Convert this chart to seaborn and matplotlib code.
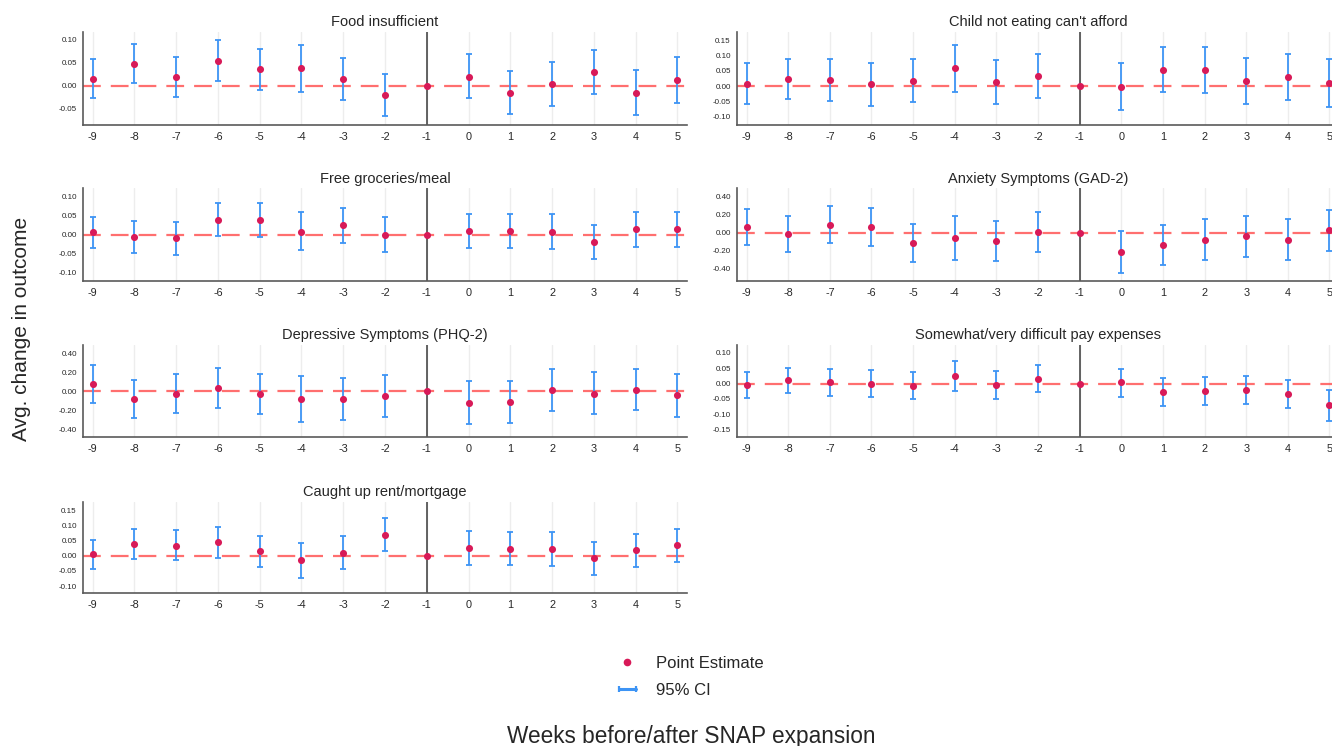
"""
Event-study style panels: weekly point estimates and 95% CIs around the
SNAP expansion (week -1 is the reference week).
"""

import numpy as np
import pandas as pd
import seaborn as sns
import matplotlib.pyplot as plt
from matplotlib.lines import Line2D
from matplotlib.legend_handler import HandlerLine2D

WEEKS = list(range(-9, 6))
NA = np.nan

FOOD_EST = [0.015, 0.048, 0.019, 0.055, 0.036, 0.038, 0.015, -0.021, 0.0, 0.020, -0.015, 0.003, 0.030, -0.015, 0.012]
FOOD_LO = [-0.028, 0.005, -0.025, 0.011, -0.010, -0.013, -0.032, -0.067, NA, -0.028, -0.063, -0.045, -0.018, -0.064, -0.038]
FOOD_HI = [0.058, 0.092, 0.063, 0.100, 0.080, 0.089, 0.061, 0.026, NA, 0.069, 0.033, 0.052, 0.077, 0.034, 0.063]

CHILD_EST = [0.008, 0.023, 0.021, 0.007, 0.018, 0.058, 0.013, 0.034, 0.0, -0.002, 0.054, 0.052, 0.017, 0.029, 0.009]
CHILD_LO = [-0.059, -0.044, -0.048, -0.064, -0.053, -0.021, -0.060, -0.038, NA, -0.078, -0.021, -0.024, -0.058, -0.047, -0.069]
CHILD_HI = [0.075, 0.090, 0.089, 0.076, 0.088, 0.136, 0.086, 0.106, NA, 0.075, 0.128, 0.128, 0.091, 0.104, 0.088]

FREE_EST = [0.006, -0.005, -0.010, 0.039, 0.039, 0.008, 0.024, 0.0, 0.0, 0.010, 0.010, 0.008, -0.020, 0.014, 0.015]
FREE_LO = [-0.036, -0.047, -0.053, -0.004, -0.006, -0.041, -0.023, -0.045, NA, -0.036, -0.034, -0.037, -0.064, -0.031, -0.031]
FREE_HI = [0.047, 0.036, 0.032, 0.083, 0.083, 0.058, 0.069, 0.046, NA, 0.055, 0.053, 0.053, 0.024, 0.059, 0.060]

ANX_EST = [0.063, -0.011, 0.088, 0.066, -0.114, -0.063, -0.092, 0.004, 0.0, -0.218, -0.136, -0.081, -0.041, -0.077, 0.026]
ANX_LO = [-0.140, -0.214, -0.118, -0.144, -0.324, -0.299, -0.313, -0.214, NA, -0.446, -0.354, -0.306, -0.269, -0.299, -0.203]
ANX_HI = [0.258, 0.188, 0.299, 0.273, 0.100, 0.181, 0.133, 0.225, NA, 0.015, 0.085, 0.148, 0.181, 0.148, 0.251]

DEP_EST = [0.077, -0.084, -0.025, 0.035, -0.031, -0.080, -0.084, -0.045, 0.0, -0.119, -0.115, 0.018, -0.025, 0.018, -0.042]
DEP_LO = [-0.122, -0.283, -0.224, -0.171, -0.241, -0.321, -0.300, -0.265, NA, -0.346, -0.332, -0.203, -0.241, -0.199, -0.265]
DEP_HI = [0.276, 0.115, 0.182, 0.241, 0.182, 0.157, 0.136, 0.175, NA, 0.108, 0.105, 0.238, 0.206, 0.238, 0.185]

PAY_EST = [-0.005, 0.011, 0.004, 0.0, -0.007, 0.025, -0.004, 0.015, 0.0, 0.004, -0.026, -0.023, -0.021, -0.034, -0.071]
PAY_LO = [-0.048, -0.032, -0.039, -0.044, -0.051, -0.024, -0.050, -0.028, NA, -0.044, -0.072, -0.071, -0.066, -0.080, -0.121]
PAY_HI = [0.037, 0.052, 0.047, 0.044, 0.037, 0.074, 0.041, 0.060, NA, 0.049, 0.019, 0.023, 0.025, 0.013, -0.021]

RENT_EST = [0.004, 0.038, 0.033, 0.044, 0.016, -0.016, 0.010, 0.069, 0.0, 0.026, 0.022, 0.022, -0.009, 0.020, 0.034]
RENT_LO = [-0.045, -0.010, -0.016, -0.007, -0.036, -0.075, -0.044, 0.015, NA, -0.031, -0.031, -0.033, -0.064, -0.036, -0.021]
RENT_HI = [0.053, 0.087, 0.083, 0.095, 0.066, 0.043, 0.063, 0.123, NA, 0.082, 0.077, 0.077, 0.046, 0.072, 0.089]

TITLES = [
    "Food insufficient",
    "Child not eating can't afford",
    "Free groceries/meal",
    "Anxiety Symptoms (GAD-2)",
    "Depressive Symptoms (PHQ-2)",
    "Somewhat/very difficult pay expenses",
    "Caught up rent/mortgage",
]
SERIES = [
    (FOOD_EST, FOOD_LO, FOOD_HI),
    (CHILD_EST, CHILD_LO, CHILD_HI),
    (FREE_EST, FREE_LO, FREE_HI),
    (ANX_EST, ANX_LO, ANX_HI),
    (DEP_EST, DEP_LO, DEP_HI),
    (PAY_EST, PAY_LO, PAY_HI),
    (RENT_EST, RENT_LO, RENT_HI),
]
Y_TICKS = [
    [-0.05, 0.0, 0.05, 0.10],
    [-0.10, -0.05, 0.0, 0.05, 0.10, 0.15],
    [-0.10, -0.05, 0.0, 0.05, 0.10],
    [-0.40, -0.20, 0.0, 0.20, 0.40],
    [-0.40, -0.20, 0.0, 0.20, 0.40],
    [-0.15, -0.10, -0.05, 0.0, 0.05, 0.10],
    [-0.10, -0.05, 0.0, 0.05, 0.10, 0.15],
]
Y_LIMS = [
    (-0.086, 0.118),
    (-0.128, 0.179),
    (-0.121, 0.121),
    (-0.535, 0.49),
    (-0.482, 0.486),
    (-0.175, 0.126),
    (-0.124, 0.1775),
]

POINT_COLOR = "#D81A58"
CI_COLOR = "#3D94F5"
ZERO_COLOR = "#FF5656"

W, H = 1332, 746
COL_LEFT = [83, 737]
COL_WIDTH = [604, 602]
ROW_BOUNDS = [(31.7, 125), (188.3, 281), (345, 437.3), (501.7, 593.3)]


def build_frame() -> pd.DataFrame:
    parts = []
    for title, (est, lo, hi) in zip(TITLES, SERIES):
        parts.append(pd.DataFrame({"panel": title, "week": WEEKS, "est": est, "lo": lo, "hi": hi}))
    return pd.concat(parts, ignore_index=True)


def draw_panel(ax, sub: pd.DataFrame, title: str, yticks, ylim) -> None:
    for w in WEEKS:
        ax.axvline(w, color="#EDEDED", lw=1.0, zorder=0)
    ax.axhline(0, color=ZERO_COLOR, lw=1.6, ls=(0, (8, 4.5)), alpha=0.85, zorder=1)
    ax.axvline(-1, color="#3A3A3A", lw=1.1, zorder=1)

    ci = sub.dropna(subset=["lo", "hi"])
    ax.errorbar(ci["week"], ci["est"], yerr=[ci["est"] - ci["lo"], ci["hi"] - ci["est"]],
                fmt="none", ecolor=CI_COLOR, elinewidth=1.3, capsize=2.2, capthick=1.3, zorder=2)
    sns.scatterplot(data=sub, x="week", y="est", color=POINT_COLOR, s=26, linewidth=0,
                    ax=ax, zorder=3, legend=False)

    ax.set_xlim(-9.23, 5.23)
    ax.set_ylim(*ylim)
    ax.set_xticks(WEEKS)
    ax.set_xticklabels([str(w) for w in WEEKS])
    ax.set_yticks(yticks)
    ax.set_yticklabels([f"{t:.2f}" for t in yticks])
    ax.tick_params(axis="x", labelsize=7.8, length=3, width=0.9, color="#555555", pad=2)
    ax.tick_params(axis="y", labelsize=5.8, length=3, width=0.9, color="#555555", pad=1.5)
    ax.set_xlabel("")
    ax.set_ylabel("")
    ax.set_title(title, fontsize=10.5, pad=4)
    for side in ["top", "right"]:
        ax.spines[side].set_visible(False)
    for side in ["left", "bottom"]:
        ax.spines[side].set_color("#5A5A5A")
        ax.spines[side].set_linewidth(1.2)


def main() -> None:
    sns.set_theme(style="white")
    plt.rcParams["font.family"] = ["Liberation Sans", "DejaVu Sans"]
    df = build_frame()

    fig = plt.figure(figsize=(W / 100, H / 100), dpi=100)
    for i, title in enumerate(TITLES):
        row, col = divmod(i, 2)
        top, bottom = ROW_BOUNDS[row]
        ax = fig.add_axes([COL_LEFT[col] / W, 1 - bottom / H, COL_WIDTH[col] / W, (bottom - top) / H])
        draw_panel(ax, df[df["panel"] == title], title, Y_TICKS[i], Y_LIMS[i])

    pt_handle = Line2D([], [], ls="none", marker="o", markersize=5.5, markerfacecolor=POINT_COLOR,
                       markeredgewidth=0)
    ci_handle = Line2D([], [], color=CI_COLOR, lw=2.2, marker="|", markersize=5,
                       markeredgewidth=1.6, markeredgecolor=CI_COLOR)
    fig.legend(handles=[pt_handle, ci_handle], labels=["Point Estimate", "95% CI"], loc="center",
               bbox_to_anchor=(0.517, 1 - 677 / H), frameon=False, fontsize=12,
               handlelength=1.6, handletextpad=0.9, labelspacing=0.7,
               handler_map={ci_handle: HandlerLine2D(numpoints=2)})

    fig.text(0.519, 1 - 736 / H, "Weeks before/after SNAP expansion", ha="center", va="center", fontsize=16.3)
    fig.text(0.0165, 1 - 329 / H, "Avg. change in outcome", rotation=90, ha="center", va="center", fontsize=15)

    fig.savefig("out.png", dpi=100)
    plt.close(fig)


if __name__ == "__main__":
    main()
